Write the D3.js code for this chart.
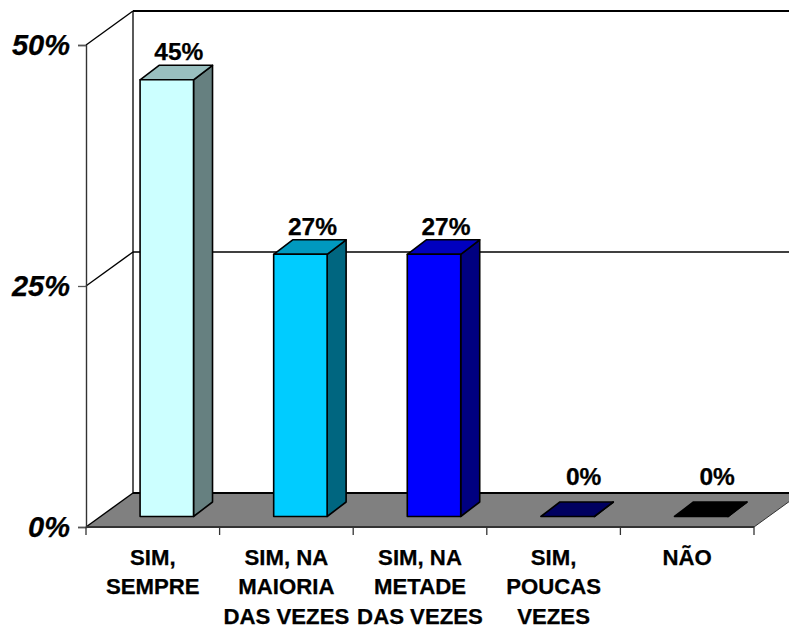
<!DOCTYPE html>
<html>
<head>
<meta charset="utf-8">
<title>Chart</title>
<script src="https://cdnjs.cloudflare.com/ajax/libs/d3/7.8.5/d3.min.js"></script>
<style>
  html, body { margin: 0; padding: 0; background: #fff; }
  svg { display: block; }
  text { font-family: "Liberation Sans", Arial, sans-serif; font-weight: bold; fill: #000; stroke: #000; stroke-width: 0.25px; }
</style>
</head>
<body>
<div id="chart"></div>
<script>
// Data
var categories = ["SIM, SEMPRE", "SIM, NA MAIORIA DAS VEZES", "SIM, NA METADE DAS VEZES", "SIM, POUCAS VEZES", "NÃO"];
var categoryLines = [
  ["SIM,", "SEMPRE"],
  ["SIM, NA", "MAIORIA", "DAS VEZES"],
  ["SIM, NA", "METADE", "DAS VEZES"],
  ["SIM,", "POUCAS", "VEZES"],
  ["NÃO"]
];
var values = [45.3, 27.2, 27.2, 0, 0];
var yTicks = [0, 25, 50];
var frontColors = ["#CCFFFF", "#00CCFF", "#0000FF", "#000080", "#000000"];
var topColors = ["#99BFBF", "#0099BF", "#0000BF", "#000060", "#000000"];
var sideColors = ["#668080", "#006680", "#000080", "#000040", "#000000"];

// Set Margins
var width = 789;
var height = 629;
var left = 86, right = 754, bottom = 527, top_ = 45;

// Depth of the room and of the bars
var wallDx = 47, wallDy = -34;
var barInsetX = 14, barInsetY = -10.5;
var barDx = 19, barDy = -14.5;

var x = d3.scaleBand()
    .domain(categories)
    .range([left, right])
    .paddingInner(0.6)
    .paddingOuter(0.3);

var y = d3.scaleLinear()
    .domain([0, 50])
    .range([bottom, top_]);

var svg = d3.select("#chart")
    .append("svg")
    .attr("width", width)
    .attr("height", height);

function poly(pts) {
  return pts.map(function(p) { return p.join(","); }).join(" ");
}

// Floor
svg.append("polygon")
    .attr("points", poly([[left, y(0)], [left + wallDx, y(0) + wallDy], [right + wallDx, y(0) + wallDy], [right, y(0)]]))
    .attr("fill", "#808080");

// Back wall gridlines and their side wall diagonals
svg.selectAll(".grid")
    .data(yTicks)
    .enter().append("line")
    .attr("class", "grid")
    .attr("x1", left + wallDx)
    .attr("x2", right + wallDx)
    .attr("y1", function(d) { return y(d) + wallDy; })
    .attr("y2", function(d) { return y(d) + wallDy; })
    .attr("stroke", "#000")
    .attr("stroke-width", function(d) { return d === 25 ? 1.3 : 2; });

svg.selectAll(".diag")
    .data(yTicks)
    .enter().append("line")
    .attr("class", "diag")
    .attr("x1", left)
    .attr("x2", left + wallDx)
    .attr("y1", function(d) { return y(d); })
    .attr("y2", function(d) { return y(d) + wallDy; })
    .attr("stroke", "#000")
    .attr("stroke-width", 1.4);

svg.append("line")
    .attr("x1", left + wallDx)
    .attr("x2", left + wallDx)
    .attr("y1", y(50) + wallDy)
    .attr("y2", y(0) + wallDy)
    .attr("stroke", "#000")
    .attr("stroke-width", 1.3);

// Right edge of the floor
svg.append("line")
    .attr("x1", right)
    .attr("x2", right + wallDx)
    .attr("y1", y(0))
    .attr("y2", y(0) + wallDy)
    .attr("stroke", "#333")
    .attr("stroke-width", 1);

// Axes
var yAxis = d3.axisLeft(y)
    .tickValues(yTicks)
    .tickSize(8)
    .tickPadding(8)
    .tickFormat(function(d) { return d + "%"; });

var yG = svg.append("g")
    .attr("transform", "translate(" + left + ",0)")
    .call(yAxis);
yG.select(".domain").attr("stroke", "#333").attr("stroke-width", 1.4);
yG.selectAll(".tick line").attr("stroke", "#555").attr("stroke-width", 1.3);
yG.selectAll("text")
    .attr("font-size", 29)
    .attr("font-style", "italic")
    .attr("font-weight", "bold")
    .attr("font-family", '"Liberation Sans", Arial, sans-serif')
    .attr("fill", "#000");

var tickX = d3.scaleLinear().domain([0, categories.length]).range([left, right]);
svg.selectAll(".xtick")
    .data(d3.range(categories.length + 1))
    .enter().append("line")
    .attr("class", "xtick")
    .attr("x1", function(d) { return tickX(d); })
    .attr("x2", function(d) { return tickX(d); })
    .attr("y1", y(0))
    .attr("y2", y(0) + 8)
    .attr("stroke", "#333")
    .attr("stroke-width", 1.3);

svg.append("line")
    .attr("x1", left)
    .attr("x2", right)
    .attr("y1", y(0))
    .attr("y2", y(0))
    .attr("stroke", "#333")
    .attr("stroke-width", 2);

// Bars, each with front, top and side faces
var bars = svg.selectAll(".bar")
    .data(values)
    .enter().append("g")
    .attr("class", "bar");

function frontLeft(i) { return x(categories[i]) + barInsetX; }
function frontRight(i) { return frontLeft(i) + x.bandwidth(); }
function frontTop(v) { return y(v) + barInsetY; }
function frontBottom() { return y(0) + barInsetY; }

bars.append("polygon")
    .attr("points", function(d, i) {
      return poly([[frontRight(i), frontTop(d)], [frontRight(i) + barDx, frontTop(d) + barDy],
        [frontRight(i) + barDx, frontBottom() + barDy], [frontRight(i), frontBottom()]]);
    })
    .attr("fill", function(d, i) { return sideColors[i]; });

bars.append("polygon")
    .attr("points", function(d, i) {
      return poly([[frontLeft(i), frontTop(d)], [frontLeft(i) + barDx, frontTop(d) + barDy],
        [frontRight(i) + barDx, frontTop(d) + barDy], [frontRight(i), frontTop(d)]]);
    })
    .attr("fill", function(d, i) { return topColors[i]; });

bars.append("rect")
    .attr("x", function(d, i) { return frontLeft(i); })
    .attr("y", function(d) { return frontTop(d); })
    .attr("width", x.bandwidth())
    .attr("height", function(d) { return frontBottom() - frontTop(d); })
    .attr("fill", function(d, i) { return frontColors[i]; });

bars.selectAll("polygon, rect")
    .attr("stroke", "#000")
    .attr("stroke-width", 1.6)
    .attr("stroke-linejoin", "round");

// Value labels sit just above the bar's back edge
bars.append("text")
    .attr("x", function(d, i) { return (frontLeft(i) + frontRight(i)) / 2 + (d > 0 ? 12 : 16); })
    .attr("y", function(d) { return frontTop(d) + barDy - (d > 0 ? 5 : 17); })
    .attr("text-anchor", "middle")
    .attr("font-size", 24.5)
    .text(function(d) { return d3.format(".0f")(d) + "%"; });

// Category labels, three lines at most and kept inside the page
var catLabels = svg.selectAll(".cat")
    .data(categories)
    .enter().append("text")
    .attr("class", "cat")
    .attr("text-anchor", "middle")
    .attr("font-size", 22.2);

catLabels.selectAll("tspan")
    .data(function(d, i) { return categoryLines[i].map(function(t) { return {t: t, cat: d}; }); })
    .enter().append("tspan")
    .attr("x", function(d) { return x(d.cat) + x.bandwidth() / 2; })
    .attr("y", function(d, i) { return 564.5 + i * 29.7; })
    .text(function(d) { return d.t; });
</script>
</body>
</html>
